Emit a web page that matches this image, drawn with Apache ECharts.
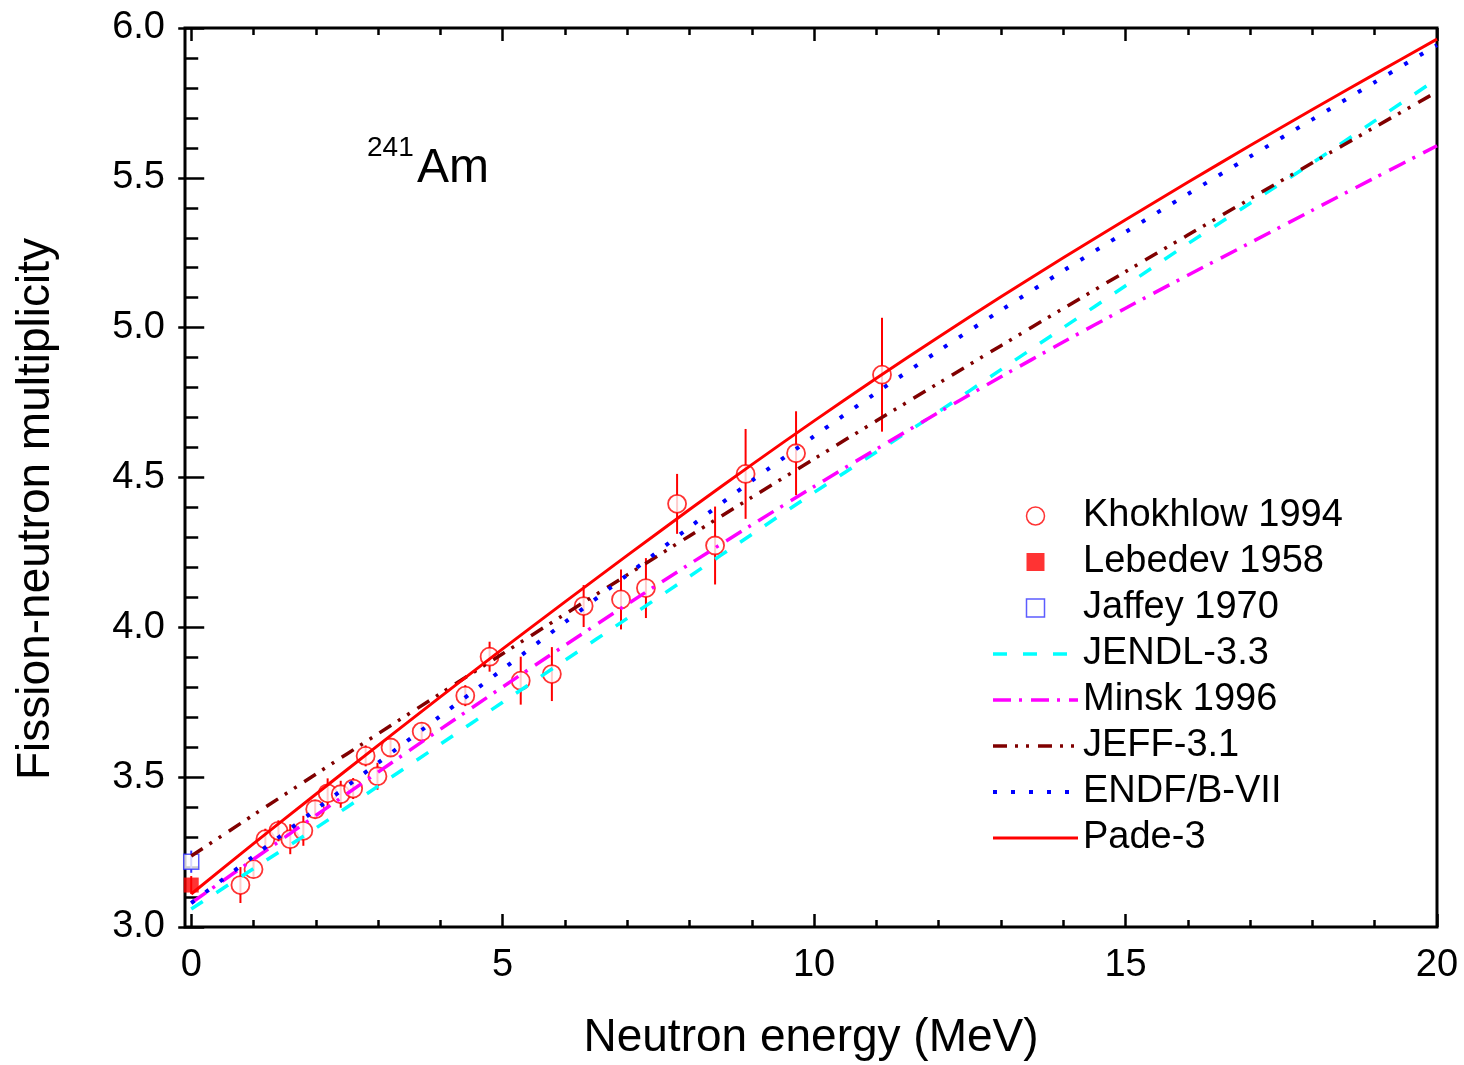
<!DOCTYPE html>
<html>
<head>
<meta charset="utf-8">
<script src="https://cdn.jsdelivr.net/npm/echarts@6/dist/echarts.min.js"></script>
<style>
html,body{margin:0;padding:0;background:#fff;}
#chart{width:1464px;height:1065px;}
</style>
</head>
<body>
<div id="chart"></div>
<script>
// ---------- data ----------
const khokX = [0.79,1.0,1.19,1.4,1.59,1.8,1.99,2.19,2.4,2.6,2.8,2.99,3.2,3.7,4.4,4.79,5.29,5.79,6.3,6.9,7.3,7.8,8.41,8.9,9.71,11.09];
const khokY = [3.140,3.193,3.293,3.321,3.293,3.321,3.393,3.446,3.443,3.462,3.571,3.503,3.599,3.652,3.772,3.902,3.822,3.844,4.071,4.093,4.131,4.412,4.273,4.512,4.581,4.843];
const khokErr = [0.06,0.03,0.035,0.035,0.05,0.05,0.03,0.05,0.045,0.035,0.035,0.045,0.03,0.03,0.035,0.05,0.08,0.09,0.07,0.10,0.10,0.10,0.13,0.15,0.14,0.19];

const lebedevX = [0.0];
const lebedevY = [3.14];
const lebedevErr = [0.03];

const jaffeyX = [0.0];
const jaffeyY = [3.218];
const jaffeyErr = [0.037];

const energyGrid = [0,1,2,3,4,5,6,7,8,9,10,11,12,13,14,15,16,17,18,19,20];
const jendlY = [3.06,3.195,3.33,3.47,3.61,3.75,3.89,4.03,4.17,4.31,4.45,4.585,4.72,4.86,5.00,5.14,5.28,5.415,5.55,5.69,5.83];
const minskY = [3.08,3.226,3.372,3.517,3.660,3.801,3.940,4.077,4.211,4.342,4.470,4.595,4.717,4.836,4.952,5.065,5.175,5.283,5.392,5.500,5.607];
const jeffY  = [3.237,3.374,3.510,3.645,3.779,3.912,4.044,4.175,4.305,4.434,4.562,4.689,4.815,4.940,5.064,5.187,5.309,5.430,5.550,5.669,5.787];
const endfY  = [3.08,3.236,3.392,3.548,3.704,3.860,4.017,4.175,4.334,4.489,4.638,4.783,4.923,5.058,5.190,5.319,5.446,5.571,5.695,5.819,5.943];
const padeY  = [3.11,3.278,3.443,3.606,3.768,3.928,4.085,4.240,4.393,4.543,4.689,4.831,4.969,5.103,5.233,5.360,5.485,5.608,5.728,5.846,5.963];

const xMajorTicks = [0,5,10,15,20];
const xMinorTicks = [1,2,3,4,6,7,8,9,11,12,13,14,16,17,18,19];

const names = ['Khokhlow 1994','Lebedev 1958','Jaffey 1970','JENDL-3.3','Minsk 1996','JEFF-3.1','ENDF/B-VII','Pade-3'];
const xTitle = 'Neutron energy (MeV)';
const yTitle = 'Fission-neutron multiplicity';

// ---------- helpers ----------
const FONT = 'Liberation Sans, Arial, sans-serif';
const zip2 = (xs, ys) => xs.map((x, i) => [x, ys[i]]);
const zip3 = (xs, ys, es) => xs.map((x, i) => [x, ys[i], es[i]]);

function errRenderer(color) {
  return function (params, api) {
    const x = api.value(0), y = api.value(1), e = api.value(2);
    const p1 = api.coord([x, y + e]);
    const p2 = api.coord([x, y - e]);
    return {
      type: 'line',
      shape: { x1: p1[0], y1: p1[1], x2: p2[0], y2: p2[1] },
      style: { stroke: color, lineWidth: 2 }
    };
  };
}

function xAxisDef(position, ticks, len, withLabel) {
  return {
    type: 'value', min: -0.1, max: 20, position: position,
    axisLine: { show: false },
    splitLine: { show: false },
    axisTick: { show: true, inside: true, length: len, customValues: ticks,
                lineStyle: { color: '#000', width: 2.5 } },
    axisLabel: withLabel ? { show: true, customValues: ticks, fontSize: 38, color: '#000',
                fontFamily: FONT, margin: 20 } : { show: false }
  };
}

function lineSeries(name, ys, color, dash, width) {
  return {
    name: name, type: 'line', data: zip2(energyGrid, ys),
    symbol: 'none', smooth: 0.3, z: 5,
    lineStyle: { color: color, width: width, type: dash, cap: 'butt' },
    itemStyle: { color: color }
  };
}

const chart = echarts.init(document.getElementById('chart'), null, { renderer: 'canvas' });

const xAxes = [
  Object.assign(xAxisDef('bottom', xMajorTicks, 13, true), {
    name: xTitle, nameLocation: 'middle', nameGap: 88,
    nameTextStyle: { fontSize: 46, color: '#000', fontFamily: FONT }
  }),
  xAxisDef('top', xMajorTicks, 13, false),
  xAxisDef('bottom', xMinorTicks, 7, false),
  xAxisDef('top', xMinorTicks, 7, false)
];

function yAxisDef(position, withLabel) {
  return {
    type: 'value', min: 3, max: 6, interval: 0.5, position: position,
    axisLine: { show: false },
    splitLine: { show: false },
    axisTick: { show: true, inside: true, length: 13, lineStyle: { color: '#000', width: 2.5 } },
    minorTick: { show: true, splitNumber: 5, length: 7, lineStyle: { color: '#000', width: 2.5 } },
    minorSplitLine: { show: false },
    axisLabel: withLabel ? { show: true, fontSize: 38, color: '#000', fontFamily: FONT, margin: 20,
                formatter: v => v.toFixed(1) } : { show: false }
  };
}

const SQUARE = 'path://M0,0L10,0L10,10L0,10Z';
function lineLegend(name, w) {
  return { name: name, itemStyle: { opacity: 0 }, lineStyle: { width: w } };
}

const option = {
  backgroundColor: '#fff',
  animation: false,
  grid: { left: 185, right: 27, top: 28, bottom: 138, show: true, outerBoundsMode: 'none',
          borderColor: '#000', borderWidth: 3, backgroundColor: 'transparent' },
  xAxis: xAxes,
  yAxis: [yAxisDef('left', true), yAxisDef('right', false)],
  legend: {
    orient: 'vertical', left: 986, top: 491,
    itemWidth: 85, itemHeight: 18, itemGap: 6, symbolKeepAspect: true,
    textStyle: { fontSize: 38, color: '#000', fontFamily: FONT, lineHeight: 40 },
    data: [
      { name: names[0], icon: 'circle', itemStyle: { color: '#fff', borderColor: '#ff0000', borderWidth: 1.5 } },
      { name: names[1], icon: SQUARE, itemStyle: { color: '#ff0000', borderWidth: 0 } },
      { name: names[2], icon: SQUARE, itemStyle: { color: '#fff', borderColor: '#3333ff', borderWidth: 1.5 } },
      lineLegend(names[3], 3.5),
      lineLegend(names[4], 3.5),
      lineLegend(names[5], 3.5),
      lineLegend(names[6], 4),
      lineLegend(names[7], 3)
    ]
  },
  graphic: [
    { type: 'text', left: 367, top: 134, style: { text: '241', font: '28px Liberation Sans', fill: '#000' } },
    { type: 'text', left: 417, top: 145, style: { text: 'Am', font: '48px Liberation Sans', fill: '#000' } },
    { type: 'text', x: 36, y: 509, rotation: Math.PI / 2,
      style: { text: yTitle, font: '46px Liberation Sans', fill: '#000', align: 'center', verticalAlign: 'middle' } }
  ],
  series: [
    { type: 'custom', renderItem: errRenderer('#ff0000'), data: zip3(khokX, khokY, khokErr), z: 1, silent: true, clip: false },
    { type: 'custom', renderItem: errRenderer('#ff0000'), data: zip3(lebedevX, lebedevY, lebedevErr), z: 1, silent: true, clip: false },
    { type: 'custom', renderItem: errRenderer('#3333ff'), data: zip3(jaffeyX, jaffeyY, jaffeyErr), z: 1, silent: true, clip: false },
    { name: names[0], type: 'scatter', data: zip2(khokX, khokY), symbol: 'circle', symbolSize: 18, z: 2, clip: false,
      itemStyle: { color: '#fff', borderColor: '#ff0000', borderWidth: 1.8 } },
    { name: names[1], type: 'scatter', data: zip2(lebedevX, lebedevY), symbol: 'rect', symbolSize: 15, z: 2, clip: false,
      itemStyle: { color: '#ff0000', borderColor: '#ff0000', borderWidth: 0 } },
    { name: names[2], type: 'scatter', data: zip2(jaffeyX, jaffeyY), symbol: 'rect', symbolSize: 15, z: 2, clip: false,
      itemStyle: { color: '#fff', borderColor: '#3333ff', borderWidth: 1.5 } },
    lineSeries(names[3], jendlY, '#00ffff', [14, 16], 3.5),
    lineSeries(names[4], minskY, '#ff00ff', [18, 8, 3, 9], 3.5),
    lineSeries(names[5], jeffY, '#800000', [14, 8, 3, 8, 3, 9], 3.5),
    lineSeries(names[6], endfY, '#0000ff', [4, 14], 4),
    lineSeries(names[7], padeY, '#ff0000', 'solid', 3)
  ]
};
chart.setOption(option);
</script>
</body>
</html>
